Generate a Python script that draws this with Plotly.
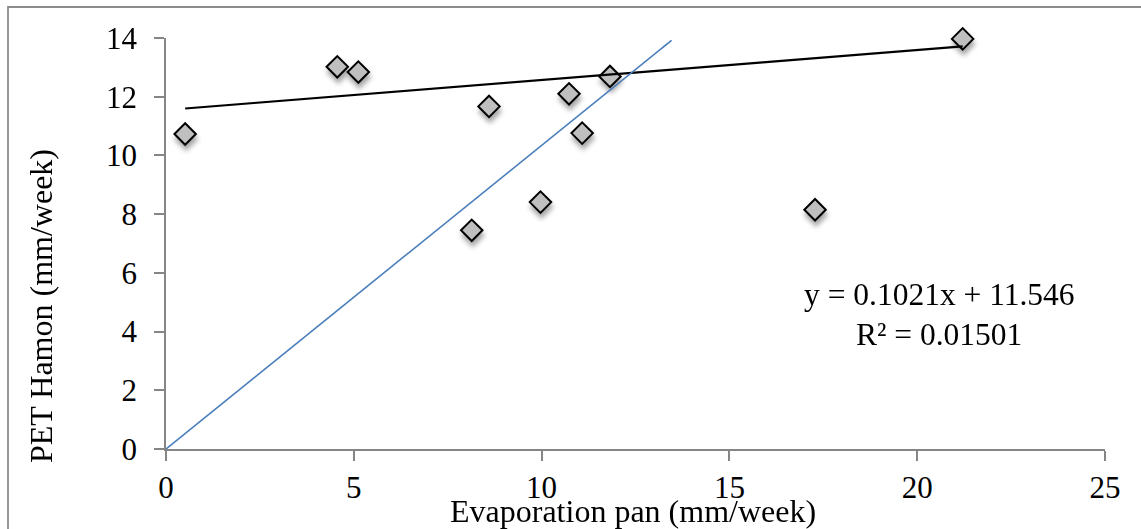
import plotly.graph_objects as go

# Weekly observations
evap_pan = [0.51, 4.56, 5.12, 8.14, 8.60, 9.97, 10.73, 11.08, 11.82, 17.28, 21.21]
pet_hamon = [10.73, 13.02, 12.84, 7.45, 11.67, 8.41, 12.10, 10.76, 12.69, 8.15, 13.97]

# Linear trendline reported on the chart
slope = 0.1021
intercept = 11.546
r_squared = 0.01501

# Reference line
ref_x = [0, 13.46]
ref_y = [0, 13.92]

x_ticks = [0, 5, 10, 15, 20, 25]
y_ticks = [0, 2, 4, 6, 8, 10, 12, 14]

W, H = 1141, 529
ML, MR, MT, MB = 166, 36, 38, 80
PW, PH = W - ML - MR, H - MT - MB

FONT = "Liberation Serif"

trend_x = [min(evap_pan), max(evap_pan)]
trend_y = [slope * v + intercept for v in trend_x]

fig = go.Figure()
fig.add_trace(go.Scatter(
    x=evap_pan, y=pet_hamon, mode="markers",
    marker=dict(symbol="diamond", size=16.5, color="#bfbfbf",
                line=dict(color="black", width=2)),
    showlegend=False, cliponaxis=False,
))
fig.add_trace(go.Scatter(
    x=trend_x, y=trend_y, mode="lines",
    line=dict(color="black", width=2.2), showlegend=False,
))
fig.add_trace(go.Scatter(
    x=ref_x, y=ref_y, mode="lines",
    line=dict(color="#4a7ebb", width=1.6), showlegend=False,
))

axis_common = dict(
    showgrid=False, zeroline=False, showline=True,
    linecolor="#868686", linewidth=1.6,
    ticks="outside", ticklen=10, tickwidth=1.6, tickcolor="#868686",
    tickfont=dict(family=FONT, size=31, color="black"),
)
fig.update_xaxes(range=[0, 25], tickvals=x_ticks, ticklabelstandoff=0, **axis_common)
fig.update_yaxes(range=[0, 14], tickvals=y_ticks, ticklabelstandoff=11, **axis_common)

def px_to_paper_x(px):
    return (px - ML) / PW

def px_to_paper_y(py):
    return (H - MB - py) / PH

annotations = [
    dict(text="Evaporation pan (mm/week)", xref="paper", yref="paper",
         x=px_to_paper_x(633), y=px_to_paper_y(511),
         showarrow=False, font=dict(family=FONT, size=32, color="black"),
         xanchor="center", yanchor="middle"),
    dict(text="PET Hamon (mm/week)", xref="paper", yref="paper",
         x=px_to_paper_x(41), y=px_to_paper_y(306), textangle=-90,
         showarrow=False, font=dict(family=FONT, size=32, color="black"),
         xanchor="center", yanchor="middle"),
    dict(text=f"y = {slope}x + {intercept}", xref="paper", yref="paper",
         x=px_to_paper_x(939), y=px_to_paper_y(294),
         showarrow=False, font=dict(family=FONT, size=31.5, color="black"),
         xanchor="center", yanchor="middle"),
    dict(text=f"R² = {r_squared}", xref="paper", yref="paper",
         x=px_to_paper_x(939), y=px_to_paper_y(334),
         showarrow=False, font=dict(family=FONT, size=31.5, color="black"),
         xanchor="center", yanchor="middle"),
]

# Chart frame: left and top edges visible, others run off the canvas
shapes = [dict(
    type="rect", xref="paper", yref="paper",
    x0=px_to_paper_x(8), x1=px_to_paper_x(W + 10),
    y0=px_to_paper_y(H + 10), y1=px_to_paper_y(7),
    line=dict(color="#8c8c8c", width=1.8), fillcolor="rgba(0,0,0,0)",
    layer="below",
)]

fig.update_layout(
    width=W, height=H,
    margin=dict(l=ML, r=MR, t=MT, b=MB),
    paper_bgcolor="white", plot_bgcolor="white",
    annotations=annotations, shapes=shapes,
)

# Soft drop shadow under the diamond markers
shadow_js = """
var svg = document.querySelector('.main-svg');
var ns = 'http://www.w3.org/2000/svg';
var defs = svg.querySelector('defs') || svg.insertBefore(document.createElementNS(ns, 'defs'), svg.firstChild);
var f = document.createElementNS(ns, 'filter');
f.setAttribute('id', 'mkshadow');
f.setAttribute('x', '-50%'); f.setAttribute('y', '-50%');
f.setAttribute('width', '200%'); f.setAttribute('height', '200%');
var d = document.createElementNS(ns, 'feDropShadow');
d.setAttribute('dx', '1'); d.setAttribute('dy', '5');
d.setAttribute('stdDeviation', '2.5');
d.setAttribute('flood-color', '#000'); d.setAttribute('flood-opacity', '0.35');
f.appendChild(d); defs.appendChild(f);
var g = document.querySelector('.scatterlayer .trace .points');
if (g) { g.setAttribute('filter', 'url(#mkshadow)'); }
"""

fig.write_html("out.html", post_script=shadow_js)
